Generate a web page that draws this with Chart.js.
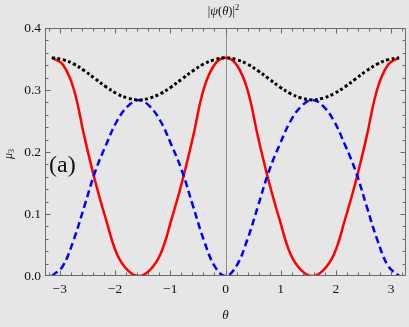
<!DOCTYPE html>
<html>
<head>
<meta charset="utf-8">
<script src="https://cdn.jsdelivr.net/npm/chart.js@4"></script>
<style>
  html, body { margin: 0; padding: 0; background: #e6e6e6; }
  canvas { display: block; }
</style>
</head>
<body>
<canvas id="c" width="409" height="327"></canvas>
<script>
// theta values (radians)
const thetaValues = [-3.1416, -2.9452, -2.7489, -2.5525, -2.3562, -2.1598, -1.9635, -1.7671, -1.5708,
  -1.3744, -1.1781, -0.9817, -0.7854, -0.5890, -0.3927, -0.1963, 0,
  0.1963, 0.3927, 0.5890, 0.7854, 0.9817, 1.1781, 1.3744, 1.5708,
  1.7671, 1.9635, 2.1598, 2.3562, 2.5525, 2.7489, 2.9452, 3.1416];
// red solid curve
const redValues = [0.352, 0.341, 0.302, 0.224, 0.152, 0.090, 0.035, 0.009, 0.000,
  0.009, 0.035, 0.090, 0.152, 0.224, 0.302, 0.341, 0.352,
  0.341, 0.302, 0.224, 0.152, 0.090, 0.035, 0.009, 0.000,
  0.009, 0.035, 0.090, 0.152, 0.224, 0.302, 0.341, 0.352];
// blue dashed curve
const blueValues = [0.000, 0.016, 0.058, 0.113, 0.169, 0.212, 0.250, 0.274, 0.284,
  0.274, 0.250, 0.212, 0.169, 0.113, 0.058, 0.016, 0.000,
  0.016, 0.058, 0.113, 0.169, 0.212, 0.250, 0.274, 0.284,
  0.274, 0.250, 0.212, 0.169, 0.113, 0.058, 0.016, 0.000];
// black dotted curve
const blackValues = [0.352, 0.349, 0.342, 0.331, 0.318, 0.305, 0.294, 0.287, 0.284,
  0.287, 0.294, 0.305, 0.318, 0.331, 0.342, 0.349, 0.352,
  0.349, 0.342, 0.331, 0.318, 0.305, 0.294, 0.287, 0.284,
  0.287, 0.294, 0.305, 0.318, 0.331, 0.342, 0.349, 0.352];
const xTickValues = [-3, -2, -1, 0, 1, 2, 3];
const yTickValues = [0.0, 0.1, 0.2, 0.3, 0.4];
const xMinorStep = 0.2;
const yMinorStep = 0.02;

const toPts = ys => thetaValues.map((t, i) => ({ x: t, y: ys[i] }));
const SERIF = '"Liberation Serif", "DejaVu Serif", serif';

const decor = {
  id: 'decor',
  beforeDraw(chart) {
    const ctx = chart.ctx;
    ctx.save();
    ctx.fillStyle = '#e6e6e6';
    ctx.fillRect(0, 0, chart.width, chart.height);
    ctx.restore();
  },
  beforeDatasetsDraw(chart) {
    const ctx = chart.ctx, a = chart.chartArea, xs = chart.scales.x;
    const x0 = Math.round(xs.getPixelForValue(0)) + 0.5;
    ctx.save();
    ctx.strokeStyle = '#8c8c8c';
    ctx.lineWidth = 1;
    ctx.beginPath();
    ctx.moveTo(x0, a.top);
    ctx.lineTo(x0, a.bottom);
    ctx.stroke();
    ctx.restore();
  },
  afterDatasetsDraw(chart) {
    const ctx = chart.ctx, a = chart.chartArea, xs = chart.scales.x, ys = chart.scales.y;
    ctx.save();
    ctx.strokeStyle = '#6a6a6a';
    ctx.lineWidth = 1;
    const L = Math.round(a.left) + 0.5, R = Math.round(a.right) - 0.5;
    const T = Math.round(a.top) + 0.5, B = Math.round(a.bottom) - 0.5;
    ctx.strokeRect(L, T, R - L, B - T);
    ctx.beginPath();
    for (let v = -3.2; v <= 3.21; v += xMinorStep) {
      const vv = Math.round(v * 10) / 10;
      const px = Math.round(xs.getPixelForValue(vv)) + 0.5;
      if (px <= L || px >= R) continue;
      const major = Math.abs(vv - Math.round(vv)) < 1e-6;
      const len = major ? 5 : 3;
      ctx.moveTo(px, B); ctx.lineTo(px, B - len);
      ctx.moveTo(px, T); ctx.lineTo(px, T + len);
    }
    for (let v = 0; v <= 0.4001; v += yMinorStep) {
      const vv = Math.round(v * 100) / 100;
      const py = Math.round(ys.getPixelForValue(vv)) + 0.5;
      if (py <= T || py >= B) continue;
      const major = Math.abs(vv * 10 - Math.round(vv * 10)) < 1e-6;
      const len = major ? 5 : 3;
      ctx.moveTo(L, py); ctx.lineTo(L + len, py);
      ctx.moveTo(R, py); ctx.lineTo(R - len, py);
    }
    ctx.stroke();
    ctx.restore();
  },
  afterDraw(chart) {
    const ctx = chart.ctx, a = chart.chartArea;
    ctx.save();
    ctx.fillStyle = '#111';
    ctx.textBaseline = 'alphabetic';
    const parts = [
      ['|', '12.5px ' + SERIF, 0],
      ['ψ', 'italic 12.5px ' + SERIF, 0],
      ['(', '12.5px ' + SERIF, 0],
      ['θ', 'italic 12.5px ' + SERIF, 0],
      [')|', '12.5px ' + SERIF, 0],
      ['2', '8.5px ' + SERIF, -5]
    ];
    let w = 0;
    parts.forEach(p => { ctx.font = p[1]; w += ctx.measureText(p[0]).width; });
    let cx = (a.left + a.right) / 2 - w / 2 - 2;
    ctx.textAlign = 'left';
    parts.forEach(p => { ctx.font = p[1]; ctx.fillText(p[0], cx, 15 + p[2]); cx += ctx.measureText(p[0]).width; });
    ctx.font = 'italic 13px ' + SERIF;
    ctx.textAlign = 'center';
    ctx.fillText('θ', (a.left + a.right) / 2, 319);
    ctx.save();
    ctx.translate(12, 154);
    ctx.rotate(-Math.PI / 2);
    ctx.textAlign = 'left';
    ctx.font = 'italic 12px ' + SERIF;
    const mw = ctx.measureText('μ').width;
    ctx.fillText('μ', -5, 0);
    ctx.font = '8px ' + SERIF;
    ctx.fillText('3', -5 + mw, 2);
    ctx.restore();
    ctx.font = '24px ' + SERIF;
    ctx.textAlign = 'left';
    ctx.fillText('(a)', 49, 172);
    ctx.restore();
  }
};

new Chart(document.getElementById('c'), {
  type: 'line',
  data: {
    datasets: [
      { label: 'black', data: toPts(blackValues), borderColor: '#000000', borderWidth: 3,
        borderDash: [3, 2.5], borderCapStyle: 'butt', pointRadius: 0, tension: 0.4, fill: false },
      { label: 'blue', data: toPts(blueValues), borderColor: '#0000ff', borderWidth: 2.5,
        borderDash: [7, 4], borderCapStyle: 'butt', pointRadius: 0, tension: 0.4, fill: false },
      { label: 'red', data: toPts(redValues), borderColor: '#ff0000', borderWidth: 2.5,
        pointRadius: 0, tension: 0.4, fill: false }
    ]
  },
  options: {
    responsive: false,
    devicePixelRatio: 1,
    animation: false,
    layout: { padding: { top: 28, right: 3, left: 0, bottom: 0 } },
    plugins: { legend: { display: false }, tooltip: { enabled: false }, title: { display: false } },
    scales: {
      x: {
        type: 'linear', min: -3.267, max: 3.267,
        grid: { display: false, drawTicks: false },
        border: { display: false },
        afterBuildTicks: s => { s.ticks = xTickValues.map(v => ({ value: v })); },
        afterFit: s => { s.height = 51; },
        ticks: {
          padding: 5, color: '#111', font: { family: SERIF, size: 13.5 },
          maxRotation: 0, autoSkip: false,
          callback: v => (v < 0 ? '\u2212' + Math.abs(v) : String(v))
        }
      },
      y: {
        type: 'linear', min: 0, max: 0.4,
        grid: { display: false, drawTicks: false },
        border: { display: false },
        afterBuildTicks: s => { s.ticks = yTickValues.map(v => ({ value: v })); },
        afterFit: s => { s.width = 45; },
        ticks: {
          padding: 4, color: '#111', font: { family: SERIF, size: 13.5 },
          autoSkip: false,
          callback: v => Number(v).toFixed(1)
        }
      }
    }
  },
  plugins: [decor]
});
</script>
</body>
</html>
